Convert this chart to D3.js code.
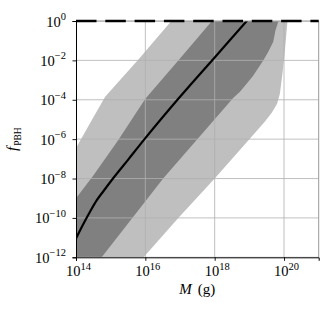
<!DOCTYPE html>
<html>
<head>
<meta charset="utf-8">
<script src="https://cdn.jsdelivr.net/npm/d3@7"></script>
<style>
  body { margin: 0; background: #fff; }
  text { font-family: "Liberation Serif", "DejaVu Serif", serif; fill: #000; }
</style>
</head>
<body>
<svg id="chart"></svg>
<script>
// tick exponents
const xTickExp = [14, 16, 18, 20];
const yTickExp = [-12, -10, -8, -6, -4, -2, 0];

// [log10 M, log10 f]
const lightBand = [
  [14, -6.45], [14.4, -5.2], [14.84, -3.85], [15.8, -1.95], [16.75, 0],
  [20.1, 0], [20.03, -1.4], [19.96, -2.6], [19.88, -3.7], [19.8, -4.2],
  [19.65, -4.65], [19.45, -5.1], [19.0, -6.0], [18.0, -8.0], [16.95, -10.0],
  [15.95, -12], [14, -12]
];
const darkBand = [
  [14, -9.0], [14.5, -7.85], [15.2, -6.1], [16.0, -3.95], [17.0, -1.9], [17.92, 0],
  [19.84, 0], [19.75, -0.5], [19.69, -1.05], [19.55, -1.55], [19.41, -1.98],
  [19.1, -2.8], [18.73, -3.59], [18.54, -3.9], [16.52, -7.98], [14.74, -12], [14, -12]
];
const medianLine = [
  [14.0, -11.05], [14.2, -10.35], [14.4, -9.7], [14.6, -9.1], [14.8, -8.62],
  [15.0, -8.15], [15.5, -7.05], [16.0, -5.95], [17.0, -3.85], [18.0, -1.85], [18.95, 0.05]
];
const dashedLevel = 0; // f = 1

const width = 334, height = 314;
const margin = { top: 21, right: 15.3, bottom: 56.7, left: 76 };

const svg = d3.select("#chart").attr("width", width).attr("height", height);

const x = d3.scaleLog().domain([1e14, 1e21]).range([margin.left, width - margin.right]);
const y = d3.scaleLog().domain([1e-12, 1]).range([height - margin.bottom, margin.top]);

const p = (d) => [x(Math.pow(10, d[0])), y(Math.pow(10, d[1]))];

svg.append("clipPath").attr("id", "plot-clip")
  .append("rect")
  .attr("x", margin.left).attr("y", margin.top)
  .attr("width", width - margin.left - margin.right)
  .attr("height", height - margin.top - margin.bottom);

const plot = svg.append("g").attr("clip-path", "url(#plot-clip)");

const area = d3.line().x((d) => p(d)[0]).y((d) => p(d)[1]);
const smooth = d3.line().x((d) => p(d)[0]).y((d) => p(d)[1]).curve(d3.curveMonotoneX);

plot.append("path").attr("d", area(lightBand) + "Z").attr("fill", "#bfbfbf");
plot.append("path").attr("d", area(darkBand) + "Z").attr("fill", "#808080");

// grid
const grid = plot.append("g").attr("stroke", "#b0b0b0").attr("stroke-width", 0.8);
grid.selectAll(".gx").data(xTickExp).join("line")
  .attr("x1", (d) => x(Math.pow(10, d))).attr("x2", (d) => x(Math.pow(10, d)))
  .attr("y1", margin.top).attr("y2", height - margin.bottom);
grid.selectAll(".gy").data(yTickExp).join("line")
  .attr("y1", (d) => y(Math.pow(10, d))).attr("y2", (d) => y(Math.pow(10, d)))
  .attr("x1", margin.left).attr("x2", width - margin.right);

plot.append("path")
  .attr("d", smooth(medianLine))
  .attr("fill", "none").attr("stroke", "#000").attr("stroke-width", 2.2);

// frame
svg.append("line").attr("x1", margin.left).attr("x2", width - margin.right)
  .attr("y1", margin.top).attr("y2", margin.top).attr("stroke", "#999").attr("stroke-width", 1);
svg.append("line").attr("x1", width - margin.right).attr("x2", width - margin.right)
  .attr("y1", margin.top).attr("y2", height - margin.bottom).attr("stroke", "#999").attr("stroke-width", 1);

svg.append("line")
  .attr("x1", x(1e14)).attr("x2", x(1e21))
  .attr("y1", y(Math.pow(10, dashedLevel))).attr("y2", y(Math.pow(10, dashedLevel)))
  .attr("stroke", "#000").attr("stroke-width", 2.6).attr("stroke-dasharray", "20.5,8.8");

// axes
const xAxis = svg.append("g")
  .attr("transform", `translate(0,${height - margin.bottom})`)
  .call(d3.axisBottom(x).tickValues(xTickExp.map((e) => Math.pow(10, e))).tickSize(3.5).tickFormat(""));
const yAxis = svg.append("g")
  .attr("transform", `translate(${margin.left},0)`)
  .call(d3.axisLeft(y).tickValues(yTickExp.map((e) => Math.pow(10, e))).tickSize(3.5).tickFormat(""));

[xAxis, yAxis].forEach((g) => {
  g.select(".domain").attr("stroke", "#000").attr("stroke-width", 1);
  g.selectAll(".tick line").attr("stroke", "#000").attr("stroke-width", 0.9);
});

function powerLabel(sel, exp) {
  sel.append("tspan").text("10").attr("font-size", 14.5);
  sel.append("tspan").text(String(exp).replace("-", "\u2212"))
    .attr("font-size", 10.5).attr("dy", -6.5);
}

xAxis.selectAll(".tick").each(function (d) {
  const t = d3.select(this).append("text")
    .attr("y", 19).attr("text-anchor", "middle").attr("x", 2);
  powerLabel(t, Math.round(Math.log10(d)));
});
yAxis.selectAll(".tick").each(function (d) {
  const t = d3.select(this).append("text")
    .attr("x", -10).attr("y", 5).attr("text-anchor", "end");
  powerLabel(t, Math.round(Math.log10(d)));
});

// axis titles
const xt = svg.append("text")
  .attr("x", (margin.left + width - margin.right) / 2)
  .attr("y", 294).attr("text-anchor", "middle").attr("font-size", 15);
xt.append("tspan").text("M").attr("font-style", "italic");
xt.append("tspan").text("(g)").attr("dx", 6);

const yt = svg.append("text")
  .attr("transform", `translate(17,${(margin.top + height - margin.bottom) / 2}) rotate(-90)`)
  .attr("text-anchor", "middle").attr("font-size", 15);
yt.append("tspan").text("f").attr("font-style", "italic");
yt.append("tspan").text("PBH").attr("font-size", 9.5).attr("dy", 3.5).attr("dx", 1);
</script>
</body>
</html>
